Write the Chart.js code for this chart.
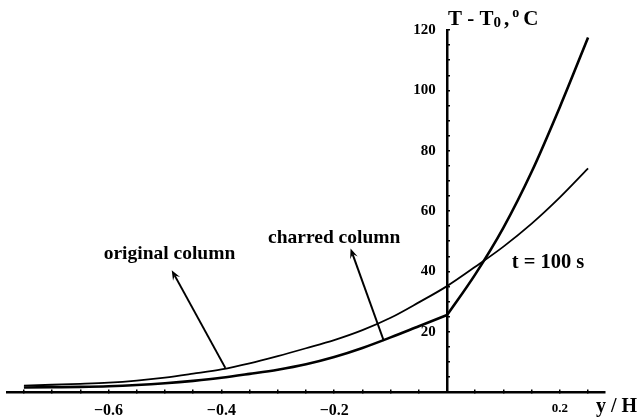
<!DOCTYPE html>
<html>
<head>
  <title>Temperature profile</title>
  <script src="https://cdn.jsdelivr.net/npm/chart.js"></script>
  <style>
    body { margin: 0; background: #fff; }
  </style>
</head>
<body>
  <canvas id="chart" width="639" height="418"></canvas>
  <script>
    // y / H positions where both profiles were sampled
    const positions = [-0.75, -0.7, -0.65, -0.6, -0.55, -0.5, -0.45, -0.4, -0.35, -0.3, -0.25,
                       -0.2, -0.15, -0.1, -0.05, 0, 0.05, 0.1, 0.15, 0.2, 0.25];
    // T - T0 (deg C) at t = 100 s
    const originalColumn = [2.1, 2.4, 2.7, 3.1, 3.8, 4.8, 6.1, 7.5, 9.5, 11.9, 14.5,
                            17.2, 20.5, 24.6, 29.7, 35.1, 41.5, 48.2, 55.8, 64.5, 74.1];
    const charredColumn = [1.5, 1.6, 1.7, 1.9, 2.3, 2.9, 3.7, 4.7, 6.0, 7.4, 9.2,
                           11.6, 14.6, 18.1, 21.8, 25.5, 39.0, 54.5, 73.0, 94.5, 117.5];

    // axis ticks and which of them carry a label
    const xTicks = [-0.75, -0.7, -0.65, -0.6, -0.55, -0.5, -0.45, -0.4, -0.35, -0.3, -0.25,
                    -0.2, -0.15, -0.1, -0.05, 0.05, 0.1, 0.15, 0.2, 0.25];
    const xTickLabels = { '-0.6': '\u22120.6', '-0.4': '\u22120.4', '-0.2': '\u22120.2', '0.2': '0.2' };
    const yTicks = [5, 10, 15, 20, 25, 30, 35, 40, 45, 50, 55, 60, 65, 70, 75, 80, 85, 90,
                    95, 100, 105, 110, 115, 120];
    const yTickLabels = ['20', '40', '60', '80', '100', '120'];

    // callouts: text position and arrow from the curve to the text
    const callouts = [
      { text: 'original column', x: -0.492, y: 45.7, from: [-0.393, 8.0], to: [-0.488, 40.4] },
      { text: 'charred column', x: -0.2, y: 51, from: [-0.112, 16.9], to: [-0.171, 47.6] }
    ];
    const timeNote = { text: 't = 100 s', x: 0.179, y: 43 };

    const serif = '"Liberation Serif", "Times New Roman", serif';

    function drawArrow(c, x1, y1, x2, y2) {
      const a = Math.atan2(y2 - y1, x2 - x1);
      const len = 10, half = 4;
      c.beginPath();
      c.moveTo(x1, y1);
      c.lineTo(x2 - Math.cos(a) * len * 0.6, y2 - Math.sin(a) * len * 0.6);
      c.stroke();
      c.beginPath();
      c.moveTo(x2, y2);
      c.lineTo(x2 - Math.cos(a) * len - Math.sin(a) * half, y2 - Math.sin(a) * len + Math.cos(a) * half);
      c.lineTo(x2 - Math.cos(a) * len * 0.6, y2 - Math.sin(a) * len * 0.6);
      c.lineTo(x2 - Math.cos(a) * len + Math.sin(a) * half, y2 - Math.sin(a) * len - Math.cos(a) * half);
      c.closePath();
      c.fill();
    }

    const annotations = {
      id: 'annotations',
      afterDraw(chart) {
        const c = chart.ctx;
        const sx = chart.scales.x, sy = chart.scales.y;
        c.save();
        c.fillStyle = '#000';
        c.strokeStyle = '#000';
        c.lineWidth = 2;
        c.textAlign = 'center';
        c.textBaseline = 'middle';
        c.font = 'bold 19.5px ' + serif;
        callouts.forEach(o => {
          c.fillText(o.text, sx.getPixelForValue(o.x), sy.getPixelForValue(o.y));
          drawArrow(c, sx.getPixelForValue(o.from[0]), sy.getPixelForValue(o.from[1]),
                       sx.getPixelForValue(o.to[0]), sy.getPixelForValue(o.to[1]));
        });
        c.font = 'bold 20.5px ' + serif;
        c.fillText(timeNote.text, sx.getPixelForValue(timeNote.x), sy.getPixelForValue(timeNote.y));

        // axis titles
        c.textAlign = 'left';
        c.textBaseline = 'alphabetic';
        let px = sx.getPixelForValue(0) + 1;
        const py = 25;
        c.font = 'bold 21px ' + serif;
        c.fillText('T - T', px, py);
        px += c.measureText('T - T').width;
        c.font = 'bold 15px ' + serif;
        c.fillText('0', px, py + 2);
        px += c.measureText('0').width + 3;
        c.font = 'bold 21px ' + serif;
        c.fillText(',', px, py);
        px += c.measureText(',').width + 3;
        c.font = 'bold 14px ' + serif;
        c.fillText('o', px, py - 8);
        px += c.measureText('o').width + 4;
        c.font = 'bold 21px ' + serif;
        c.fillText('C', px, py);

        c.font = 'bold 20px ' + serif;
        c.fillText('y / H', 596, 412);
        c.restore();
      }
    };

    const points = (values, from, to) =>
      positions.map((p, i) => ({ x: p, y: values[i] })).filter(d => d.x >= from && d.x <= to);

    // the charred profile has a kink at the char front (y / H = 0), so it is drawn in two smooth pieces
    const charredStyle = { borderColor: '#000', borderWidth: 2.6, pointRadius: 0, cubicInterpolationMode: 'monotone' };

    new Chart(document.getElementById('chart'), {
      type: 'line',
      data: {
        datasets: [
          {
            label: 'original column',
            data: points(originalColumn, -1, 1),
            borderColor: '#000',
            borderWidth: 1.8,
            pointRadius: 0,
            cubicInterpolationMode: 'monotone'
          },
          Object.assign({ label: 'charred column', data: points(charredColumn, -1, 0) }, charredStyle),
          Object.assign({ label: 'charred column', data: points(charredColumn, 0, 1) }, charredStyle)
        ]
      },
      options: {
        responsive: false,
        animation: false,
        layout: { padding: { left: 7, right: 34, top: 30, bottom: 26 } },
        plugins: {
          legend: { display: false },
          tooltip: { enabled: false }
        },
        scales: {
          x: {
            type: 'linear',
            min: -0.78,
            max: 0.28,
            position: { y: 0 },
            afterBuildTicks: s => { s.ticks = xTicks.map(v => ({ value: v })); },
            ticks: {
              autoSkip: false,
              maxRotation: 0,
              color: '#000',
              padding: 13,
              font: ctx => ({ family: serif, weight: 'bold', size: ctx.tick && ctx.tick.value > 0 ? 13 : 16 }),
              callback: v => xTickLabels[String(Math.round(v * 100) / 100)] || ''
            },
            grid: { drawOnChartArea: false, drawTicks: true, tickLength: -4, color: '#000', lineWidth: 1.5 },
            border: { display: true, color: '#000', width: 2.5 }
          },
          y: {
            type: 'linear',
            min: 0,
            max: 120,
            position: { x: 0 },
            afterBuildTicks: s => { s.ticks = yTicks.map(v => ({ value: v })); },
            ticks: {
              autoSkip: false,
              color: '#000',
              font: { family: serif, weight: 'bold', size: 15 },
              // labels sit right-aligned on the axis line, so pad them with an en space
              callback: v => yTickLabels.includes(String(v)) ? String(v) + '\u2002 ' : ''
            },
            grid: { drawOnChartArea: false, drawTicks: true, tickLength: -4, color: '#000', lineWidth: 1.5 },
            border: { display: true, color: '#000', width: 2.5 }
          }
        }
      },
      plugins: [annotations]
    });
  </script>
</body>
</html>
